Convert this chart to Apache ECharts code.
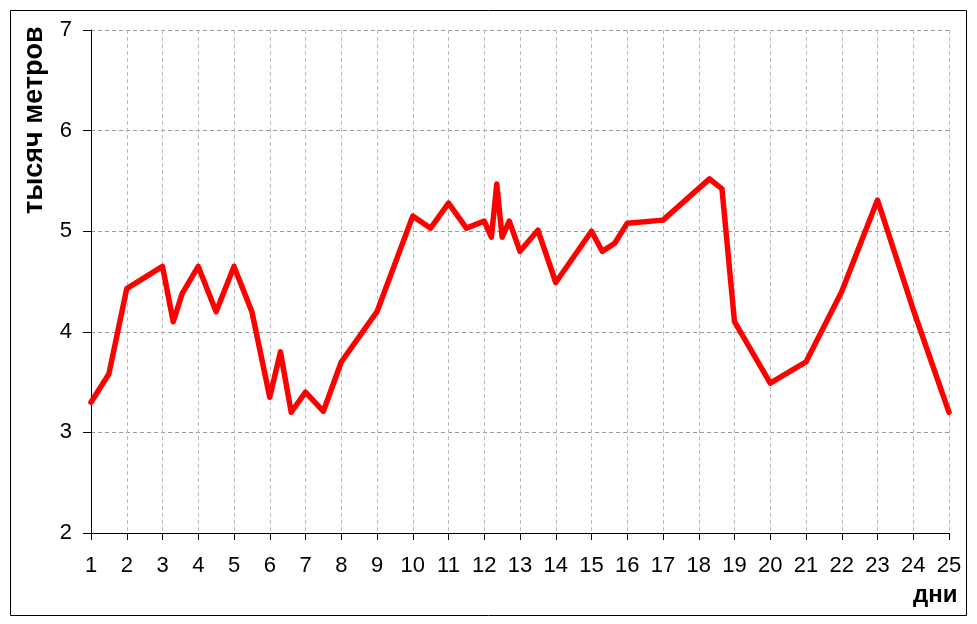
<!DOCTYPE html>
<html>
<head>
<meta charset="utf-8">
<script src="https://cdn.jsdelivr.net/npm/echarts@6/dist/echarts.min.js"></script>
<style>
html,body{margin:0;padding:0;background:#fff;}
#chart{width:977px;height:624px;}
</style>
</head>
<body>
<div id="chart"></div>
<script>
var days = [1,1.5,2,3,3.3,3.55,4,4.5,5,5.5,6,6.3,6.6,7,7.5,8,9,10,10.5,11,11.5,12,12.2,12.35,12.5,12.7,13,13.5,14,15,15.3,15.65,16,17,18.3,18.65,19,20,21,22,23,24,25];
var values = [3.3,3.58,4.43,4.65,4.1,4.38,4.65,4.2,4.65,4.2,3.35,3.8,3.2,3.4,3.21,3.7,4.2,5.15,5.03,5.28,5.03,5.1,4.94,5.47,4.94,5.1,4.8,5.01,4.49,5.0,4.8,4.88,5.08,5.11,5.52,5.42,4.1,3.49,3.7,4.4,5.31,4.22,3.2];
var xTitle = 'дни';
var yTitle = 'тысяч метров';

var pts = days.map(function(d, i){ return [d, values[i]]; });
var chart = echarts.init(document.getElementById('chart'));
var font = 'Liberation Sans, Arial, sans-serif';
chart.setOption({
  animation: false,
  backgroundColor: '#fff',
  grid: {left: 91, right: 28, top: 30, bottom: 91, containLabel: false},
  graphic: [
    {type: 'rect', shape: {x: 10.5, y: 10.5, width: 956, height: 605}, style: {fill: 'none', stroke: '#000', lineWidth: 1}, z: -1},
    {type: 'text', left: 913, top: 583, style: {text: xTitle, font: 'bold 24px ' + font, fill: '#000'}},
    {type: 'text', x: 35, y: 214, rotation: Math.PI/2, style: {text: yTitle, font: 'bold 27px ' + font, fill: '#000', align: 'left', verticalAlign: 'middle'}}
  ],
  xAxis: {
    type: 'value', min: 1, max: 25, interval: 1,
    axisLine: {show: true, lineStyle: {color: '#000', width: 1}},
    axisTick: {show: true, length: 7, lineStyle: {color: '#000'}},
    axisLabel: {color: '#000', fontSize: 22, fontFamily: font, margin: 22},
    splitLine: {show: true, lineStyle: {color: '#bdbdbd', type: [4, 3], width: 1}}
  },
  yAxis: {
    type: 'value', min: 2, max: 7, interval: 1,
    axisLine: {show: true, lineStyle: {color: '#000', width: 1}},
    axisTick: {show: true, length: 8, lineStyle: {color: '#000'}},
    axisLabel: {color: '#000', fontSize: 22, fontFamily: font, margin: 19},
    splitLine: {show: true, lineStyle: {color: '#9a9a9a', type: [4, 3], width: 1}}
  },
  series: [{
    type: 'line', data: pts, showSymbol: false, symbol: 'none',
    lineStyle: {color: '#ff0000', width: 5.5, join: 'round', cap: 'round'},
    z: 5
  }]
});
</script>
</body>
</html>
